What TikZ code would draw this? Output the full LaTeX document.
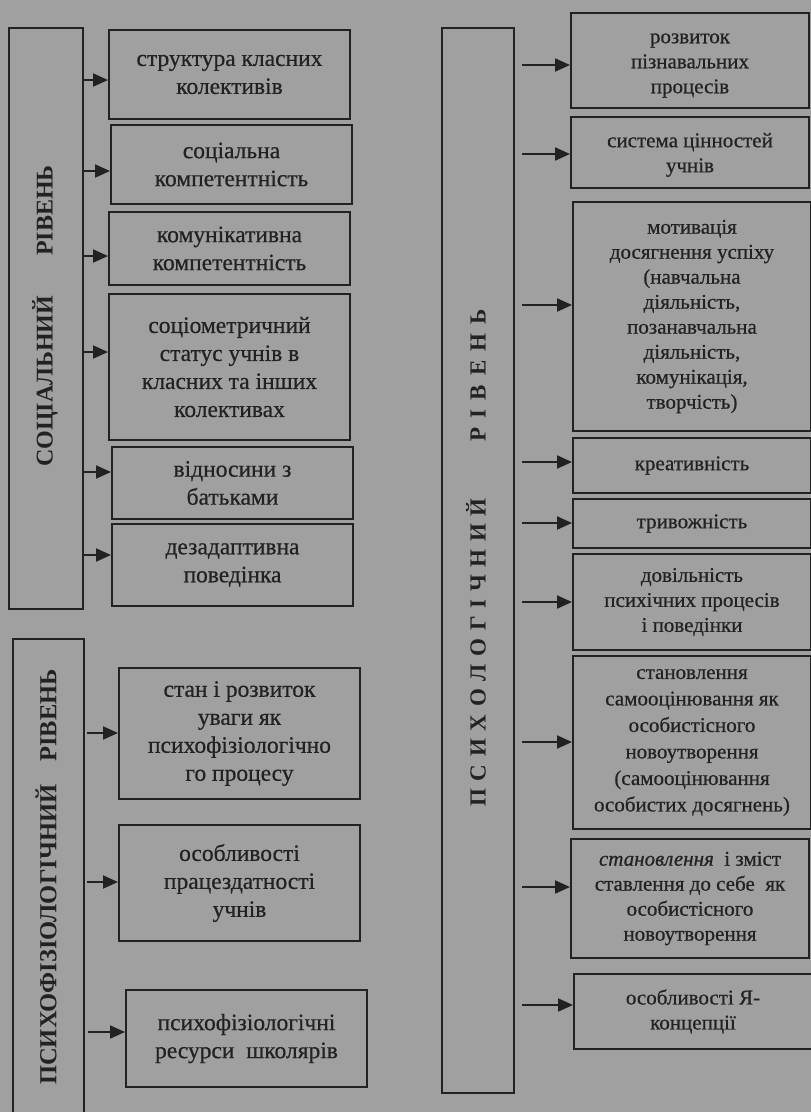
\documentclass[tikz,border=0pt]{standalone}
\usepackage{fontspec}
\setmainfont{Liberation Serif}
\newfontfamily\boxfont{Liberation Serif}[FakeBold=0.6]
\usetikzlibrary{arrows.meta}
\definecolor{bg}{HTML}{A0A0A0}
\definecolor{ink}{HTML}{222222}
\begin{document}
\begin{tikzpicture}[x=1pt,y=-1pt,
  lvl/.style={draw=ink, line width=2pt, anchor=north west, inner sep=0pt},
  lbox/.style={draw=ink, line width=2pt, anchor=north west, align=center, inner sep=0pt,
    minimum width=241pt, text=ink, font=\boxfont\fontsize{23.5}{28}\selectfont},
  rbox/.style={draw=ink, line width=2pt, anchor=north west, align=center, inner sep=0pt,
    minimum width=238pt, text=ink, font=\boxfont\fontsize{21}{25}\selectfont},
  arr/.style={draw=ink, line width=2pt, -{Triangle[length=15pt,width=13pt]}},
  lab/.style={rotate=90, text=ink, inner sep=0pt}
]
\fill[bg] (0,0) rectangle (811,1112);
\useasboundingbox (0,0) rectangle (811,1112);

% level boxes
\node[lvl, minimum width=74pt, minimum height=581pt] (S) at (8,27) {};
\node[lab, font=\bfseries\fontsize{24}{28}\selectfont] (Slab) at (45,316) {СОЦІАЛЬНИЙ\hspace{40pt}РІВЕНЬ};
\node[lvl, minimum width=71pt, minimum height=500pt] (F) at (12,638) {};
\node[lab, font=\bfseries\fontsize{24.5}{28}\selectfont] (Flab) at (46,877) {ПСИХОФІЗІОЛОГІЧНИЙ\hspace{23pt}РІВЕНЬ};
\node[lvl, minimum width=72pt, minimum height=1065pt] (P) at (441,27) {};
\node[lab, font=\bfseries\fontsize{23}{26}\selectfont] (Plab) at (476,558) {{\spaceskip=7.7pt П С И Х О Л О Г І Ч Н И Й}\hspace{57pt}{\spaceskip=9pt Р І В Е Н Ь}};

% social boxes
\node[lbox, minimum height=89pt] (L1) at (108,29) {структура класних\\колективів};
\node[lbox, minimum height=79pt] (L2) at (110,124) {соціальна\\компетентність};
\node[lbox, minimum height=73pt] (L3) at (108,211) {комунікативна\\компетентність};
\node[lbox, minimum height=146pt] (L4) at (108,293) {соціометричний\\статус учнів в\\класних та інших\\колективах};
\node[lbox, minimum height=72pt] (L5) at (111,446) {відносини з\\батьками};
\node[lbox, minimum height=82pt] (L6) at (111,523) {дезадаптивна\\поведінка};

% psychophysiological boxes
\node[lbox, minimum height=131pt] (F1) at (118,667) {стан і розвиток\\уваги як\\психофізіологічно\\го процесу};
\node[lbox, minimum height=116pt] (F2) at (118,824) {особливості\\працездатності\\учнів};
\node[lbox, minimum height=97pt] (F3) at (125,989) {психофізіологічні\\ресурси\ \ школярів};

% psychological boxes
\node[rbox, minimum height=95pt] (R1) at (570,12) {\rule{0pt}{20pt}розвиток\\пізнавальних\\процесів};
\node[rbox, minimum height=71pt] (R2) at (570,116) {\rule{0pt}{19pt}система цінностей\\учнів};
\node[rbox, minimum height=229pt] (R3) at (572,201) {мотивація\\досягнення успіху\\(навчальна\\діяльність,\\позанавчальна\\діяльність,\\комунікація,\\творчість)};
\node[rbox, minimum height=55pt] (R4) at (572,437) {креативність};
\node[rbox, minimum height=49pt] (R5) at (572,498) {тривожність};
\node[rbox, minimum height=96pt] (R6) at (572,553) {довільність\\психічних процесів\\і поведінки};
\node[rbox, minimum height=173pt, font=\boxfont\fontsize{21}{26.5}\selectfont] (R7) at (572,655) {становлення\\самооцінювання як\\особистісного\\новоутворення\\(самооцінювання\\особистих досягнень)};
\node[rbox, minimum height=119pt] (R8) at (570,838) {\textit{становлення}\ \ і зміст\\ставлення до себе\ \ як\\особистісного\\новоутворення};
\node[rbox, minimum height=75pt] (R9) at (573,973) {особливості Я-\\концепції};

% arrow start points
\coordinate (s1) at (82,80);
\coordinate (s2) at (82,171);
\coordinate (s3) at (82,256);
\coordinate (s4) at (82,352);
\coordinate (s5) at (82,472);
\coordinate (s6) at (82,555);
\coordinate (f1) at (87,733);
\coordinate (f2) at (87,882);
\coordinate (f3) at (88,1032);
\coordinate (p1) at (522,65);
\coordinate (p2) at (522,154);
\coordinate (p3) at (522,305);
\coordinate (p4) at (522,462);
\coordinate (p5) at (522,523);
\coordinate (p6) at (522,602);
\coordinate (p7) at (522,742);
\coordinate (p8) at (522,887);
\coordinate (p9) at (522,1005);

\draw[arr] (s1) -- (L1.west |- s1);
\draw[arr] (s2) -- (L2.west |- s2);
\draw[arr] (s3) -- (L3.west |- s3);
\draw[arr] (s4) -- (L4.west |- s4);
\draw[arr] (s5) -- (L5.west |- s5);
\draw[arr] (s6) -- (L6.west |- s6);
\draw[arr] (f1) -- (F1.west |- f1);
\draw[arr] (f2) -- (F2.west |- f2);
\draw[arr] (f3) -- (F3.west |- f3);
\draw[arr] (p1) -- (R1.west |- p1);
\draw[arr] (p2) -- (R2.west |- p2);
\draw[arr] (p3) -- (R3.west |- p3);
\draw[arr] (p4) -- (R4.west |- p4);
\draw[arr] (p5) -- (R5.west |- p5);
\draw[arr] (p6) -- (R6.west |- p6);
\draw[arr] (p7) -- (R7.west |- p7);
\draw[arr] (p8) -- (R8.west |- p8);
\draw[arr] (p9) -- (R9.west |- p9);
\end{tikzpicture}
\end{document}
